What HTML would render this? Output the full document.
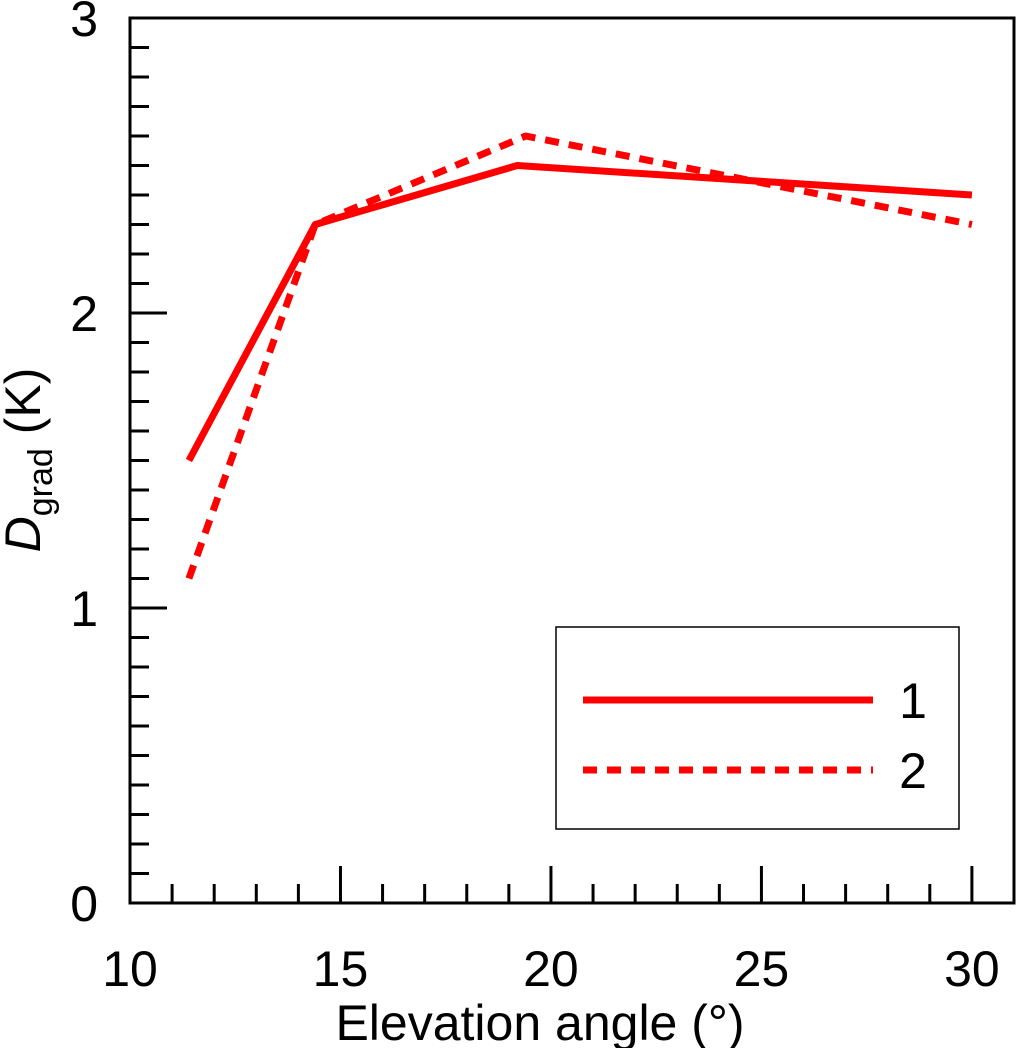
<!DOCTYPE html>
<html><head><meta charset="utf-8"><style>
html,body{margin:0;padding:0;background:#fff;}
svg{display:block;font-family:"Liberation Sans",Arial,sans-serif;}
</style></head><body>
<svg id="chart" width="1016" height="1048" viewBox="0 0 1016 1048"></svg>
<script>
const xTicks = [10, 15, 20, 25, 30];
const yTicks = [0, 1, 2, 3];
const series1X = [11.4, 14.4, 19.2, 30];
const series1Y = [1.5, 2.3, 2.5, 2.4];
const series2X = [11.4, 14.4, 19.4, 30];
const series2Y = [1.1, 2.3, 2.6, 2.3];
const legendLabels = ["1", "2"];

const L=130, R=1014, T=18, B=903;
const xMin=10, xMax=31, yMin=0, yMax=3;
const X = v => L + (v - xMin) / (xMax - xMin) * (R - L);
const Y = v => B - (v - yMin) / (yMax - yMin) * (B - T);
const NS = "http://www.w3.org/2000/svg";
const svg = document.getElementById('chart');
function mk(tag, attrs, parent){ const e=document.createElementNS(NS,tag); for(const k in attrs) e.setAttribute(k,attrs[k]); (parent||svg).appendChild(e); return e; }

const frame = mk('rect',{x:L,y:T,width:R-L,height:B-T,fill:'none',stroke:'#000','stroke-width':3});



for(let v=11; v<=30; v++){
  const major = v%5===0;
  const t = mk('line',{x1:X(v),x2:X(v),y1:B,y2:B-(major?37:19),stroke:'#000','stroke-width':3});
  
  
}
xTicks.forEach(v=>{
  const t = mk('text',{x:X(v),y:986,'font-size':50,'text-anchor':'middle'});
  t.textContent = v;
  
  
});
for(let i=1;i<30;i++){
  const v=i/10, major = i%10===0;
  const t = mk('line',{x1:L,x2:L+(major?37:19),y1:Y(v),y2:Y(v),stroke:'#000','stroke-width':3});
  
  
}
yTicks.forEach(v=>{
  const t = mk('text',{x:98,y:Y(v)+18,'font-size':50,'text-anchor':'end'});
  t.textContent = v;
  
  
});
const xt = mk('text',{x:540,y:1040,'font-size':50,'text-anchor':'middle'});
xt.textContent = 'Elevation angle (°)';


const yt = mk('text',{transform:'translate(40,460) rotate(-90)','font-size':50,'text-anchor':'middle'});


yt.innerHTML = '<tspan font-style="italic">D</tspan><tspan font-size="34" dy="12">grad</tspan><tspan dy="-12"> (K)</tspan>';

function line(xs, ys, dash, name){
  const pts = xs.map((x,i)=>X(x)+','+Y(ys[i])).join(' ');
  const p = mk('polyline',{points:pts,fill:'none',stroke:'#ff0000','stroke-width':7,'stroke-linejoin':'round','stroke-dasharray':dash||'none'});
  
  
}
line(series1X, series1Y, null, 'series-1-line');
line(series2X, series2Y, '14 10', 'series-2-line');

const lg = mk('g',{});


mk('rect',{x:556,y:627,width:403,height:202,fill:'#fff',stroke:'#000','stroke-width':1.5},lg);
const l1 = mk('line',{x1:583,x2:873,y1:700,y2:700,stroke:'#ff0000','stroke-width':7},lg);


const l2 = mk('line',{x1:583,x2:873,y1:770,y2:770,stroke:'#ff0000','stroke-width':7,'stroke-dasharray':'14 10'},lg);


legendLabels.forEach((s,i)=>{
  const t = mk('text',{x:913,y:718+i*70,'font-size':50,'text-anchor':'middle'},lg);
  t.textContent = s;
  
  
});
</script>
</body></html>
